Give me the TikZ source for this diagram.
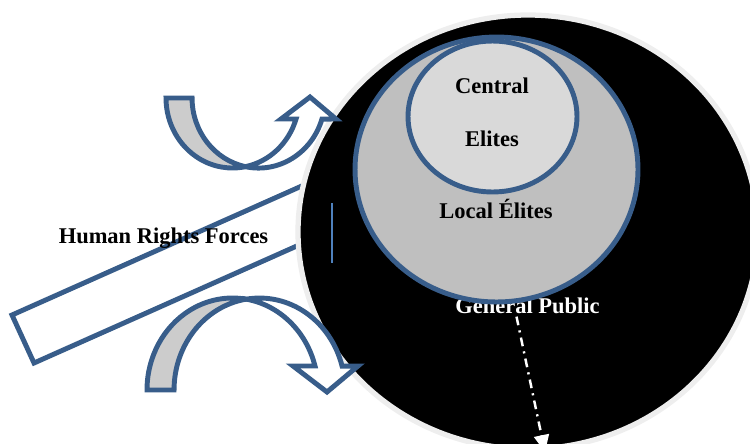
\documentclass[tikz,border=0pt]{standalone}
\usepackage{fontspec}
\setmainfont{Liberation Serif}
\usepackage{tikz}
\usetikzlibrary{shapes.geometric,arrows.meta,positioning,calc}

\definecolor{edgeblue}{HTML}{385D8A}
\definecolor{markblue}{HTML}{4F81BD}
\definecolor{localgray}{HTML}{BFBFBF}
\definecolor{centralgray}{HTML}{D9D9D9}
\definecolor{bandgray}{HTML}{CCCCCC}
\definecolor{rimgray}{HTML}{EEEEEE}

\begin{document}
\begin{tikzpicture}[
    x=0.02cm, y=-0.02cm,
    font=\fontsize{12.8}{15}\selectfont\bfseries,
    outline/.style={draw=edgeblue, line width=2.8pt, line join=miter},
    layer/.style={ellipse, draw=edgeblue, line width=2.8pt, inner sep=0pt},
    txt/.style={anchor=base, inner sep=0pt},
    backband/.style={outline, fill=bandgray},
    frontband/.style={outline, fill=white},
    flow/.style={white, line width=1.4pt, dash pattern=on 5pt off 3pt on 1.2pt off 3pt,
        -{Triangle[open, length=3.4mm, width=3mm, fill=white]}}
]

\clip (0,0) rectangle (750,443);

% the slanted bar, running in under the public
\draw[outline, fill=white] (12,315) -- (34,363) -- (344,225) -- (322,177) -- cycle;
\node[txt] (forces) at (163.5,243) {Human Rights Forces};

% general public
\draw[draw=rimgray, line width=3pt, fill=black] (528,232) ellipse [x radius=230, y radius=217];
\draw[markblue, line width=1pt] (332,203) -- (332,263);
\node[txt, white] (public) at (527.5,313) {General Public};

% local and central elites
\node[layer, fill=localgray, minimum width=5.66cm, minimum height=5.3cm] (local) at (496.5,169.5) {};
\node[layer, fill=centralgray, minimum width=3.38cm, minimum height=3.02cm] (central) at (492.5,116.5) {};
\node[txt] (centralA) at (492,93) {Central};
\node[txt] (centralB) at (492,146) {Elites};
\node[txt] (localtxt) at (496,218) {Local Élites};

% flow out of the public
\coordinate (gpout) at (545,452);
\draw[flow] ([xshift=-0.22cm, yshift=-0.06cm]public.south) -- (gpout);

% upper curved arrow
\draw[backband] (166,98) arc[start angle=180, end angle=78.7, x radius=66.5, y radius=70]
    arc[start angle=101.3, end angle=180, x radius=66.5, y radius=70] -- cycle;
\draw[frontband] (245.5,166.7) arc[start angle=101.3, end angle=17.5, x radius=66.5, y radius=70]
    -- (336,119) -- (310,97) -- (281,119) -- (296,119)
    arc[start angle=17.5, end angle=78.7, x radius=66.5, y radius=70] -- cycle;

% lower curved arrow
\draw[backband] (147,390) arc[start angle=180, end angle=279.1, x radius=85.5, y radius=92]
    arc[start angle=260.9, end angle=180, x radius=85.5, y radius=92] -- cycle;
\draw[frontband] (246,299.2) arc[start angle=260.9, end angle=344.9, x radius=85.5, y radius=92]
    -- (358,366) -- (327,392) -- (293,366) -- (315,366)
    arc[start angle=344.9, end angle=279.1, x radius=85.5, y radius=92] -- cycle;

\end{tikzpicture}
\end{document}
